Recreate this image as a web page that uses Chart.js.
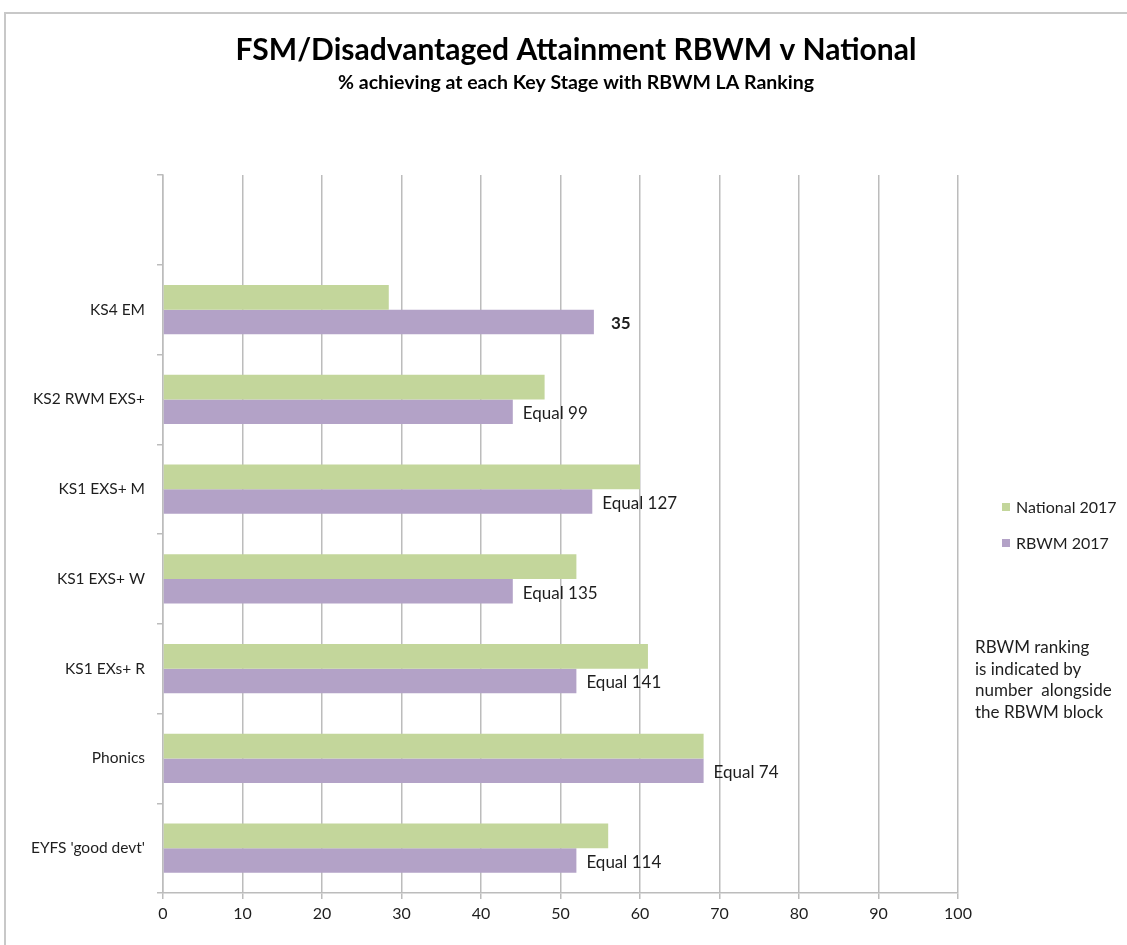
<!DOCTYPE html>
<html>
<head>
<meta charset="utf-8">
<script src="https://cdn.jsdelivr.net/npm/chart.js@4/dist/chart.umd.min.js"></script>
<style>
    html, body { margin: 0; padding: 0; background: #ffffff; }
    #wrap { width: 1127px; height: 945px; }
</style>
</head>
<body>
<div id="wrap"><canvas id="chart" width="1127" height="945"></canvas></div>
<script>
// Chart data
const categories = ['', 'KS4 EM', 'KS2 RWM EXS+', 'KS1 EXS+ M', 'KS1 EXS+ W', 'KS1 EXs+ R', 'Phonics', "EYFS 'good devt'"];
const nationalValues = [null, 28.4, 48, 60, 52, 61, 68, 56];
const rbwmValues = [null, 54.2, 44, 54, 44, 52, 68, 52];
const rankLabels = ['', '35', 'Equal 99', 'Equal 127', 'Equal 135', 'Equal 141', 'Equal 74', 'Equal 114'];
const xTicks = [0, 10, 20, 30, 40, 50, 60, 70, 80, 90, 100];
const noteLines = ['RBWM ranking', 'is indicated by', 'number  alongside', 'the RBWM block'];

const FONT = 'Lato, "Open Sans", sans-serif';
const GREEN = '#c3d69b';
const PURPLE = '#b3a2c7';
const GRID = '#bcbcbc';
const TEXT = '#1e1e1e';

// Frame, titles, legend and side note
const decorPlugin = {
    id: 'decor',
    beforeDraw(chart) {
        const ctx = chart.ctx;
        ctx.save();
        ctx.fillStyle = '#ffffff';
        ctx.fillRect(0, 0, chart.width, chart.height);
        ctx.strokeStyle = '#c8c8c8';
        ctx.lineWidth = 2;
        ctx.beginPath();
        ctx.moveTo(5, chart.height);
        ctx.lineTo(5, 13);
        ctx.lineTo(chart.width, 13);
        ctx.stroke();
        ctx.restore();
    },
    afterDraw(chart) {
        const ctx = chart.ctx;
        ctx.save();
        ctx.fillStyle = '#000000';
        ctx.textAlign = 'center';
        ctx.textBaseline = 'alphabetic';
        ctx.font = 'bold 30px ' + FONT;
        ctx.fillText('FSM/Disadvantaged Attainment RBWM v National', 576, 60);
        ctx.font = 'bold 19.5px ' + FONT;
        ctx.fillText('% achieving at each Key Stage with RBWM LA Ranking', 576, 89);

        // legend
        ctx.textAlign = 'left';
        ctx.textBaseline = 'middle';
        ctx.font = '16px ' + FONT;
        const items = [['National 2017', GREEN, 507], ['RBWM 2017', PURPLE, 543]];
        items.forEach(([label, color, y]) => {
            ctx.fillStyle = color;
            ctx.fillRect(1002, y - 4, 8, 8);
            ctx.fillStyle = TEXT;
            ctx.fillText(label, 1016, y + 1);
        });

        // note
        ctx.font = '17px ' + FONT;
        noteLines.forEach((line, i) => {
            ctx.fillText(line, 975, 648 + i * 21.5);
        });
        ctx.restore();
    }
};

// Ranking labels next to the RBWM bars
const rankPlugin = {
    id: 'rank',
    afterDatasetsDraw(chart) {
        const ctx = chart.ctx;
        const meta = chart.getDatasetMeta(1);
        ctx.save();
        ctx.fillStyle = TEXT;
        ctx.textBaseline = 'middle';
        ctx.textAlign = 'left';
        meta.data.forEach((bar, i) => {
            const text = rankLabels[i];
            if (!text || rbwmValues[i] == null) return;
            const bold = text === '35';
            ctx.font = (bold ? 'bold ' : '') + '17px ' + FONT;
            ctx.fillText(text, bar.x + (bold ? 17 : 10), bar.y + 2);
        });
        ctx.restore();
    }
};

new Chart(document.getElementById('chart'), {
    type: 'bar',
    data: {
        labels: categories,
        datasets: [
            {
                label: 'National 2017',
                data: nationalValues,
                backgroundColor: GREEN,
                categoryPercentage: 0.55,
                barPercentage: 1.0
            },
            {
                label: 'RBWM 2017',
                data: rbwmValues,
                backgroundColor: PURPLE,
                categoryPercentage: 0.55,
                barPercentage: 1.0
            }
        ]
    },
    options: {
        indexAxis: 'y',
        responsive: false,
        animation: false,
        layout: { padding: { top: 175, left: 0, right: 169, bottom: 0 } },
        plugins: {
            legend: { display: false },
            title: { display: false },
            tooltip: { enabled: false }
        },
        scales: {
            x: {
                min: 0,
                max: 100,
                afterBuildTicks(scale) {
                    scale.ticks = xTicks.map(v => ({ value: v }));
                },
                afterFit(scale) { scale.height = 52; },
                grid: { color: GRID, lineWidth: 1.5, tickLength: 6, drawTicks: true },
                border: { color: GRID, width: 1.5 },
                ticks: { color: TEXT, font: { family: FONT, size: 16 }, padding: 5 }
            },
            y: {
                afterFit(scale) { scale.width = 163; },
                grid: { color: GRID, lineWidth: 1.5, drawOnChartArea: false, tickLength: 6, offset: true },
                border: { color: GRID, width: 1.5 },
                ticks: { color: TEXT, font: { family: FONT, size: 15.5 }, padding: 12 }
            }
        }
    },
    plugins: [decorPlugin, rankPlugin]
});
</script>
</body>
</html>
